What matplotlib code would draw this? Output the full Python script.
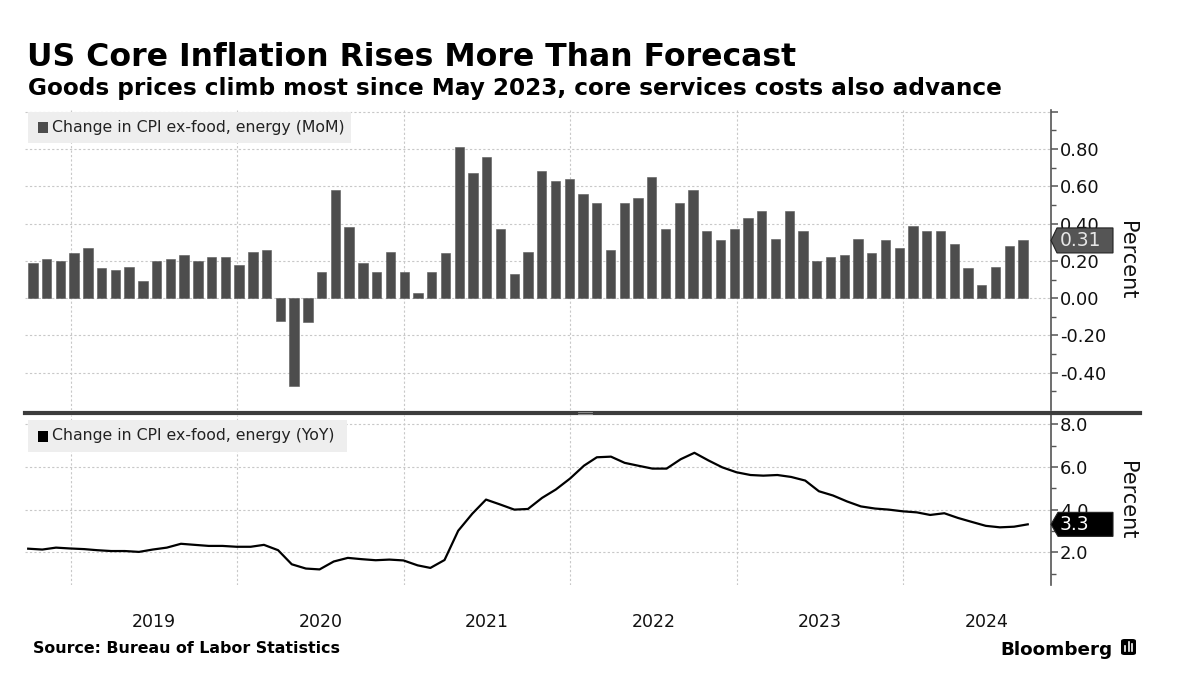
import numpy as np
import pandas as pd
import matplotlib
matplotlib.use("Agg")
import matplotlib.pyplot as plt
import matplotlib.dates as mdates
import matplotlib.transforms as mtransforms
from matplotlib.patches import Polygon, Rectangle, FancyBboxPatch
from matplotlib.lines import Line2D

plt.rcParams['font.family'] = ['DejaVu Sans']
plt.rcParams['axes.unicode_minus'] = False

# ---------------- data ----------------
start_month = '2018-09-30'
end_month = '2024-09-30'

mom = [0.19, 0.21, 0.20, 0.24,
       0.27, 0.16, 0.15, 0.17, 0.09, 0.20, 0.21, 0.23, 0.20, 0.22, 0.22, 0.18,
       0.25, 0.26, -0.12, -0.47, -0.13, 0.14, 0.58, 0.38, 0.19, 0.14, 0.25, 0.14,
       0.03, 0.14, 0.24, 0.81, 0.67, 0.76, 0.37, 0.13, 0.25, 0.68, 0.63, 0.64,
       0.56, 0.51, 0.26, 0.51, 0.54, 0.65, 0.37, 0.51, 0.58, 0.36, 0.31, 0.37,
       0.43, 0.47, 0.32, 0.47, 0.36, 0.20, 0.22, 0.23, 0.32, 0.24, 0.31, 0.27,
       0.39, 0.36, 0.36, 0.29, 0.16, 0.07, 0.17, 0.28, 0.31]

yoy = [2.17, 2.13, 2.22, 2.18,
       2.15, 2.10, 2.06, 2.06, 2.02, 2.13, 2.22, 2.40, 2.35, 2.30, 2.30, 2.26,
       2.26, 2.35, 2.10, 1.44, 1.24, 1.20, 1.57, 1.74, 1.68, 1.63, 1.66, 1.62,
       1.39, 1.27, 1.64, 3.01, 3.81, 4.47, 4.24, 4.00, 4.03, 4.55, 4.94, 5.45,
       6.06, 6.45, 6.48, 6.19, 6.05, 5.92, 5.92, 6.36, 6.66, 6.30, 5.98, 5.75,
       5.62, 5.59, 5.62, 5.53, 5.36, 4.86, 4.66, 4.38, 4.15, 4.05, 4.00, 3.92,
       3.87, 3.75, 3.83, 3.61, 3.42, 3.24, 3.17, 3.20, 3.31]

years = ['2019', '2020', '2021', '2022', '2023', '2024']

mom_ticks = [-0.4, -0.2, 0.0, 0.2, 0.4, 0.6, 0.8, 1.0]
yoy_ticks = [2.0, 4.0, 6.0, 8.0]

title = "US Core Inflation Rises More Than Forecast"
subtitle = "Goods prices climb most since May 2023, core services costs also advance"
source = "Source: Bureau of Labor Statistics"
legend_mom = "Change in CPI ex-food, energy (MoM)"
legend_yoy = "Change in CPI ex-food, energy (YoY)"

# ---------------- layout helpers ----------------
W, H = 1180, 696
def fx(x):
    return x / W
def fy(y):
    return 1 - y / H

fig = plt.figure(figsize=(W / 100, H / 100), dpi=100)
fig.patch.set_facecolor('white')

ax1 = fig.add_axes([fx(25), fy(410), 1026 / W, 300 / H])
ax2 = fig.add_axes([fx(25), fy(585), 1026 / W, 170 / H])

months = pd.date_range(start_month, end_month, freq='ME')
mnum = mdates.date2num(months)
xlo = mdates.date2num(pd.Timestamp('2018-09-23'))
xhi = mdates.date2num(pd.Timestamp('2024-11-20'))

year_starts = mdates.date2num([pd.Timestamp(f'{y}-01-01') for y in years])
year_mids = mdates.date2num([pd.Timestamp(f'{y}-07-02') for y in years])

grid_kw = dict(color='#c8c8c8', linestyle=(0, (2, 2)), linewidth=0.8)
spine_col = '#555555'

# bars (spread evenly between first and last month-end, as Bloomberg draws them)
bw = 20.6
lefts = np.linspace(mnum[0], mnum[-1] - bw, len(mnum))
ax1.bar(lefts, mom, width=bw, align='edge', color='#4d4d4d', edgecolor='#5a5a5a',
        linewidth=0.4, zorder=3)

ax2.plot(mnum, yoy, color='black', linewidth=1.6, zorder=3, solid_joinstyle='round')

for ax in (ax1, ax2):
    ax.set_xlim(xlo, xhi)
    ax.set_facecolor('none')
    for s in ('left', 'top', 'bottom'):
        ax.spines[s].set_visible(False)
    ax.spines['right'].set_color(spine_col)
    ax.spines['right'].set_linewidth(1.2)
    ax.yaxis.tick_right()
    ax.set_xticks(year_starts)
    ax.tick_params(axis='x', which='major', length=0, labelbottom=False)
    ax.tick_params(axis='y', which='major', direction='out', length=5, width=1.1,
                   color=spine_col, labelsize=13, pad=1.5, labelcolor='#111111')
    ax.tick_params(axis='y', which='minor', direction='out', length=3.5, width=1.0,
                   color=spine_col)
    ax.grid(True, which='major', **grid_kw)
    ax.set_axisbelow(True)

ax1.set_ylim(-0.60, 1.01)
ax1.set_yticks(mom_ticks, labels=[f'{t:.2f}' if t < 0.95 else '' for t in mom_ticks])
ax1.set_yticks(np.arange(-0.5, 1.0, 0.2), minor=True)

ax2.set_ylim(0.47, 8.43)
ax2.set_yticks(yoy_ticks, labels=[f'{t:.1f}' for t in yoy_ticks])
ax2.set_yticks([1, 3, 5, 7], minor=True)
ax2.set_xticks(year_mids, minor=True)
ax2.set_xticklabels(years, minor=True)
ax2.tick_params(axis='x', which='minor', length=0, pad=20, labelsize=12.5,
                labelcolor='#111111')

# Percent labels
for ax in (ax1, ax2):
    ax.text(1.074, 0.5, 'Percent', transform=ax.transAxes, rotation=-90,
            ha='center', va='center', fontsize=15, color='#111111')

# value tags
def tag(ax, val, text, face, tcol, tip_px, half_px):
    trans = mtransforms.blended_transform_factory(ax.transAxes, ax.transData)
    y0, y1 = ax.get_ylim()
    ax_h = ax.get_position().height * H
    hd = half_px * (y1 - y0) / ax_h
    axw = ax.get_position().width * W
    xt = 1.0
    xb = 1.0 + tip_px / axw
    xr = 1.0 + 62 / axw
    poly = Polygon([(xt, val), (xb, val + hd), (xr, val + hd), (xr, val - hd), (xb, val - hd)],
                   closed=True, transform=trans, facecolor=face, edgecolor='#222222',
                   linewidth=0.8, clip_on=False, zorder=10)
    ax.add_patch(poly)
    ax.text(1.0 + 9 / axw, val, text, transform=trans, ha='left', va='center',
            fontsize=13.5, color=tcol, zorder=11, clip_on=False)

tag(ax1, mom[-1], f'{mom[-1]:.2f}', '#555555', '#e6e6e6', 6, 12.5)
tag(ax2, yoy[-1], f'{yoy[-1]:.1f}', '#000000', '#ffffff', 7, 12)

# legends
def legend_box(y0, y1, x1, sq_col, text):
    fig.patches.append(Rectangle((fx(28), fy(y1)), fx(x1) - fx(28), fy(y0) - fy(y1),
                                 transform=fig.transFigure, facecolor='#eeeeee',
                                 edgecolor='none', zorder=5))
    yc = (y0 + y1) / 2
    fig.patches.append(Rectangle((fx(38), fy(yc + 5.5)), 10 / W, 11 / H,
                                 transform=fig.transFigure, facecolor=sq_col,
                                 edgecolor='none', zorder=6))
    fig.text(fx(52), fy(yc), text, fontsize=11.3, va='center', ha='left',
             color='#222222', zorder=6)

legend_box(112, 143, 351, '#4d4d4d', legend_mom)
legend_box(420, 452, 347, '#000000', legend_yoy)

# separator between panels
fig.lines.append(Line2D([fx(25), fx(1140)], [fy(413), fy(413)], transform=fig.transFigure,
                        color='#3c3c3c', linewidth=3.0, zorder=7))
fig.lines.append(Line2D([fx(578), fx(592)], [fy(412.2), fy(412.2)], transform=fig.transFigure,
                        color='#9a9a9a', linewidth=0.6, zorder=8))
fig.lines.append(Line2D([fx(578), fx(592)], [fy(413.8), fy(413.8)], transform=fig.transFigure,
                        color='#9a9a9a', linewidth=0.6, zorder=8))

# titles and footer
fig.text(fx(27), fy(66), title, fontsize=22.7, fontweight='bold', va='baseline',
         ha='left', color='black')
fig.text(fx(28), fy(95), subtitle, fontsize=16.65, fontweight='bold', va='baseline',
         ha='left', color='black')
fig.text(fx(33), fy(653), source, fontsize=11.4, fontweight='bold', va='baseline',
         ha='left', color='black')
fig.text(fx(1112), fy(655), 'Bloomberg', fontsize=13.2, fontweight='bold',
         va='baseline', ha='right', color='black')
fig.patches.append(FancyBboxPatch((fx(1121), fy(655)), 15 / W, 16 / H,
                                  boxstyle='round,pad=0,rounding_size=0.003',
                                  transform=fig.transFigure, facecolor='black',
                                  edgecolor='none'))
for i, hgt in enumerate([5, 9, 7]):
    xx = 1125 + i * 3.5
    fig.lines.append(Line2D([fx(xx), fx(xx)], [fy(651), fy(651 - hgt)],
                            transform=fig.transFigure, color='white', linewidth=1.2))

fig.savefig('out.png', dpi=100, facecolor='white')
